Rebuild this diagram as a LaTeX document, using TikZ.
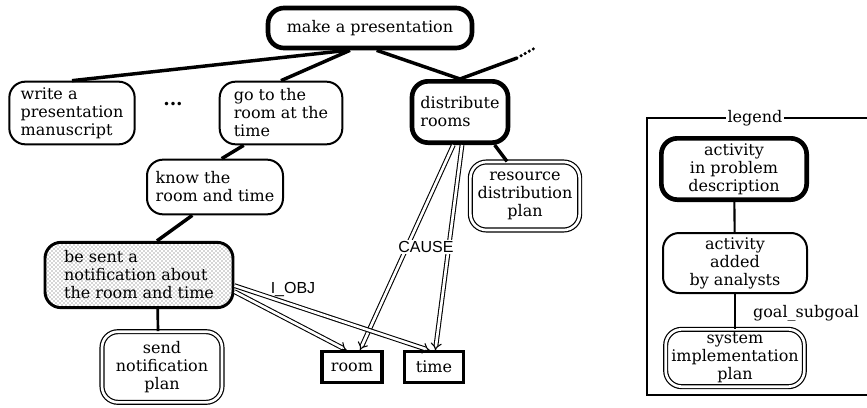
\documentclass[tikz,border=0pt]{standalone}
\usepackage{fontspec}
\setmainfont{DejaVu Serif}
\newfontfamily\sansf{Liberation Sans}
\usetikzlibrary{arrows.meta,patterns}
\begin{document}
\begin{tikzpicture}[x=0.75pt,y=-0.75pt,
	act/.style={draw,rectangle,rounded corners=12pt,line width=1.5pt,font=\fontsize{12}{13.5}\selectfont,inner sep=1pt,align=left},
	prob/.style={act,line width=3.5pt},
	plan/.style={act,double,double distance=2pt,line width=0.9pt,align=center},
	obj/.style={draw,rectangle,line width=1.8pt,font=\fontsize{12}{13.5}\selectfont,minimum height=23pt},
	sub/.style={line width=2.6pt},
	rel/.style={double,double distance=2pt,line width=0.8pt,-{Implies[length=5pt,width=10pt]}},
	lab/.style={font=\sansf\fontsize{12}{13}\selectfont,inner sep=1pt}]
			\useasboundingbox (0,0) rectangle (867,407);
			% cay muc tieu
			\node[prob,minimum width=153pt,minimum height=30pt] (make) at (370,28) {make a presentation};
			\node[act,minimum width=94pt,minimum height=47pt] (write) at (72,113) {write a\\presentation\\manuscript};
			\node[font=\fontsize{14}{14}\bfseries] (dots) at (173,104) {...};
			\node[act,minimum width=92pt,minimum height=47pt] (go) at (281,113) {go to the\\room at the\\time};
			\node[prob,minimum width=72pt,minimum height=46pt] (dist) at (460,112) {distribute\\rooms};
			\node[plan,minimum width=82pt,minimum height=51pt] (res) at (525,196) {resource\\distribution\\plan};
			\node[act,minimum width=102pt,minimum height=41pt] (know) at (215,187) {know the\\room and time};
			\node[act,line width=2.2pt,pattern=crosshatch dots,pattern color=black!70,minimum width=141pt,minimum height=49pt] (sent) at (139,275) {be sent a\\notification about\\the room and time};
			\node[plan,minimum width=90pt,minimum height=53pt] (send) at (162,367) {send\\notification\\plan};
			\node[obj,minimum width=45pt,line width=2.3pt] (room) at (352,367) {room};
			\node[obj,minimum width=44pt] (time) at (434,367) {time};
			\coordinate (more) at (517,58);
			\coordinate (moreend) at (535,48);
			\draw[sub] ([xshift=-17pt]make.south) -- (write.north);
			\draw[sub] ([xshift=-15pt]make.south) -- (go.north);
			\draw[sub] ([xshift=5pt]make.south) -- (dist.north);
			\draw[sub] (dist.north) -- (more);
			\draw[sub,line cap=round,dash pattern=on 0pt off 3.5pt] (more) -- (moreend);
			\draw[sub] ([xshift=-28pt]go.south) -- ([xshift=5pt]know.north);
			\draw[sub] ([xshift=-17pt]know.south) -- ([xshift=13.5pt]sent.north);
			\draw[line width=2pt] ([xshift=14pt]sent.south) -- ([xshift=-3pt]send.north);
			\draw[sub] ([xshift=26pt]dist.south) -- ([xshift=-13.5pt]res.north);
			% quan he doi tuong
			\draw[rel] ([xshift=-5pt]dist.south) -- ([xshift=6pt]room.north);
			\draw[rel] ([xshift=1.5pt]dist.south) -- ([xshift=1pt]time.north);
			\draw[rel] ([yshift=-12.5pt]sent.east) -- ([xshift=-4pt]room.north);
			\draw[rel] ([yshift=-8pt]sent.east) -- ([xshift=-3pt]time.north);
			\node[lab,fill=white] (cause) at (426,247) {CAUSE};
			\node[lab] (iobj) at (293,289) {I\_OBJ};
			% chu thich
			\draw[line width=1.6pt] (867,118) -- (647,118) -- (647,395) -- (867,395);
			\node[fill=white,inner sep=1pt,font=\fontsize{12}{13.5}\selectfont] (legend) at (755,118) {legend};
			\node[prob,align=center,minimum width=109pt,minimum height=46pt] (inprob) at (734,169) {activity\\in problem\\description};
			\node[act,align=center,minimum width=108pt,minimum height=45pt] (added) at (735,263) {activity\\added\\by analysts};
			\node[plan,minimum width=104pt,minimum height=43pt] (sysplan) at (735,358) {system\\implementation\\plan};
			\node[font=\fontsize{12}{13.5}\selectfont] (gs) at (806,313) {goal\_subgoal};
			\draw[line width=1.6pt] (inprob) -- (added);
			\draw[line width=1.6pt] (added) -- (sysplan);
			\end{tikzpicture}
\end{document}
